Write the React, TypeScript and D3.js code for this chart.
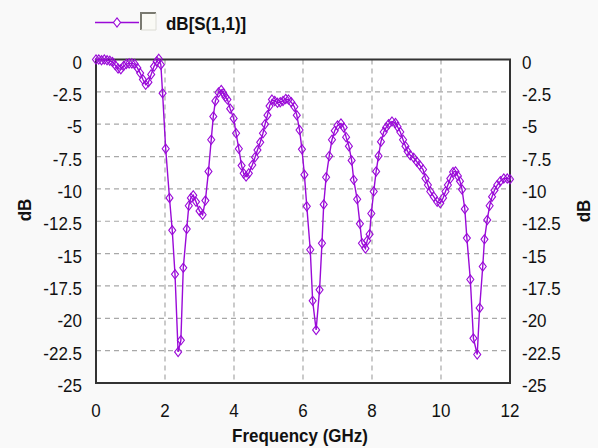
import React from "react";
import * as d3 from "d3";

const freqs: number[] = [
  0, 0.08, 0.16, 0.24, 0.32, 0.4, 0.48, 0.56, 0.64, 0.72, 0.8, 0.88, 0.96, 1.04, 1.12, 1.2, 1.28, 1.36, 1.44, 1.52,
  1.6, 1.68, 1.76, 1.82, 1.88, 1.93, 2.02, 2.13, 2.21, 2.29, 2.38, 2.46, 2.53, 2.63, 2.69, 2.75, 2.82, 2.9, 3.0, 3.09,
  3.17, 3.26, 3.34, 3.4, 3.46, 3.55, 3.63, 3.69, 3.75, 3.81, 3.89, 3.99, 4.06, 4.14, 4.22, 4.28, 4.35, 4.43, 4.53, 4.61,
  4.68, 4.76, 4.84, 4.9, 4.97, 5.03, 5.1, 5.18, 5.26, 5.34, 5.42, 5.5, 5.58, 5.66, 5.75, 5.82, 5.9, 5.97, 6.04, 6.11,
  6.21, 6.28, 6.38, 6.48, 6.55, 6.6, 6.67, 6.76, 6.84, 6.92, 7.0, 7.1, 7.18, 7.25, 7.33, 7.41, 7.47, 7.57, 7.65, 7.71,
  7.81, 7.86, 7.93, 7.98, 8.05, 8.12, 8.19, 8.26, 8.34, 8.41, 8.48, 8.58, 8.68, 8.74, 8.82, 8.9, 8.97, 9.03, 9.11, 9.21,
  9.3, 9.38, 9.48, 9.55, 9.62, 9.69, 9.79, 9.89, 9.98, 10.06, 10.13, 10.2, 10.27, 10.35, 10.42, 10.49, 10.55, 10.61, 10.69, 10.75,
  10.85, 10.94, 11.05, 11.12, 11.21, 11.26, 11.34, 11.41, 11.48, 11.55, 11.63, 11.72, 11.82, 11.92, 12.0,
];

const s11: number[] = [
  0, 0, -0.05, 0, -0.05, -0.1, -0.2, -0.45, -0.7, -0.75, -0.5, -0.35, -0.3, -0.3, -0.35, -0.65, -1.05, -1.55, -1.95, -1.75,
  -1.15, -0.55, -0.15, 0.05, -0.4, -2.6, -6.9, -10.7, -13.2, -16.6, -22.6, -21.7, -16.1, -13.1, -11.3, -10.7, -10.5, -11.0, -11.7, -12.0,
  -10.9, -8.65, -6.2, -4.4, -3.2, -2.55, -2.35, -2.6, -2.9, -3.1, -3.8, -4.55, -5.7, -6.9, -8.2, -8.8, -9.05, -8.8, -8.15, -7.55,
  -7.0, -6.4, -5.7, -5.0, -4.3, -3.6, -3.1, -3.2, -3.35, -3.3, -3.2, -3.05, -3.1, -3.3, -3.65, -4.3, -5.45, -6.94, -8.9, -11.35,
  -14.7, -18.65, -20.9, -17.8, -14.2, -11.2, -9.1, -7.45, -6.2, -5.5, -5.1, -4.94, -5.25, -6.0, -6.7, -7.8, -9.3, -10.8, -12.7, -14.2,
  -14.6, -14.0, -13.5, -11.9, -10.2, -8.65, -7.45, -6.35, -5.6, -5.25, -5.0, -4.8, -4.9, -5.2, -5.6, -6.2, -6.7, -7.1, -7.4, -7.6,
  -7.9, -8.15, -8.5, -9.2, -9.7, -10.2, -10.6, -11.0, -11.1, -10.7, -10.2, -9.7, -9.2, -8.7, -8.65, -9.0, -9.4, -10.05, -11.55, -13.8,
  -17.0, -21.55, -22.8, -19.2, -16.0, -13.9, -12.4, -11.3, -10.6, -10.1, -9.7, -9.4, -9.2, -9.2, -9.25,
];

const xTicks: number[] = [0, 2, 4, 6, 8, 10, 12];
const yTicks: number[] = [0, -2.5, -5, -7.5, -10, -12.5, -15, -17.5, -20, -22.5, -25];
const seriesName = "dB[S(1,1)]";
const xTitle = "Frequency (GHz)";
const yTitle = "dB";

const W = 598;
const H = 448;
const L = 96;
const R = 510;
const T = 59.5;
const B = 383;
const COLOR = "#9a0ad8";
const FONT = "'Liberation Sans', Arial, sans-serif";
const SY = 1.12;

function diamond(cx: number, cy: number, w = 3.5, h = 4.6) {
  return `M${cx},${cy - h}L${cx + w},${cy}L${cx},${cy + h}L${cx - w},${cy}Z`;
}

function Txt(props: { x: number; y: number; anchor?: string; size?: number; bold?: boolean; children: React.ReactNode; rotate?: number }) {
  const { x, y, anchor = "start", size = 17, bold = false, rotate = 0 } = props;
  return (
    <text
      transform={`translate(${x},${y}) rotate(${rotate}) scale(1,${SY})`}
      textAnchor={anchor}
      fontSize={size}
      fontWeight={bold ? "bold" : "normal"}
      fontFamily={FONT}
      fill="#111"
    >
      {props.children}
    </text>
  );
}

export default function App() {
  const x = d3.scaleLinear().domain([0, 12]).range([L, R]);
  const y = d3.scaleLinear().domain([0, -25]).range([T, B]);
  const pts = freqs.map((f, i) => [x(f), y(s11[i])] as [number, number]);
  const line = d3.line<[number, number]>().x((d) => d[0]).y((d) => d[1]);

  return (
    <svg width={W} height={H} style={{ position: "absolute", left: 0, top: 0, display: "block" }}>
      <rect x={0} y={0} width={W} height={H} fill="#f9f9f9" />
      <rect x={L} y={T} width={R - L} height={B - T} fill="#ffffff" />
      {xTicks.slice(1, -1).map((t) => (
        <line key={"gx" + t} x1={x(t)} x2={x(t)} y1={T} y2={B} stroke="#a8a8a8" strokeWidth={1.2} strokeDasharray="5,4" />
      ))}
      {yTicks.slice(1, -1).map((t) => (
        <line key={"gy" + t} x1={L} x2={R} y1={y(t)} y2={y(t)} stroke="#a8a8a8" strokeWidth={1.2} strokeDasharray="5,4" />
      ))}
      <rect x={L} y={T} width={R - L} height={B - T} fill="none" stroke="#333" strokeWidth={2} />
      <path d={line(pts) || ""} fill="none" stroke={COLOR} strokeWidth={1.4} />
      {pts.map((p, i) => (
        <path key={i} d={diamond(p[0], p[1])} fill="none" stroke={COLOR} strokeWidth={1.1} />
      ))}
      {yTicks.map((t) => (
        <Txt key={"yl" + t} x={82} y={y(t) + 9} anchor="end">
          {String(t)}
        </Txt>
      ))}
      {yTicks.map((t) => (
        <Txt key={"yr" + t} x={522} y={y(t) + 9} anchor="start">
          {String(t)}
        </Txt>
      ))}
      {xTicks.map((t) => (
        <Txt key={"xl" + t} x={x(t)} y={417} anchor="middle">
          {String(t)}
        </Txt>
      ))}
      <Txt x={300} y={442} anchor="middle" bold>
        {xTitle}
      </Txt>
      <Txt x={31} y={210} anchor="middle" bold rotate={-90}>
        {yTitle}
      </Txt>
      <Txt x={590} y={211} anchor="middle" bold rotate={-90}>
        {yTitle}
      </Txt>
      <line x1={95} x2={139} y1={22.5} y2={22.5} stroke={COLOR} strokeWidth={1.4} />
      <path d={diamond(117, 22.5)} fill="#fff" stroke={COLOR} strokeWidth={1.1} />
      <rect x={141} y={13} width={15} height={17} fill="#fafaf5" stroke="none" />
      <path d="M141,30 L141,13 L156,13" fill="none" stroke="#7a7a70" strokeWidth={2} />
      <path d="M141,30 L156,30 L156,13" fill="none" stroke="#dcdcd4" strokeWidth={1} />
      <Txt x={166} y={30} anchor="start" bold>
        {seriesName}
      </Txt>
    </svg>
  );
}
